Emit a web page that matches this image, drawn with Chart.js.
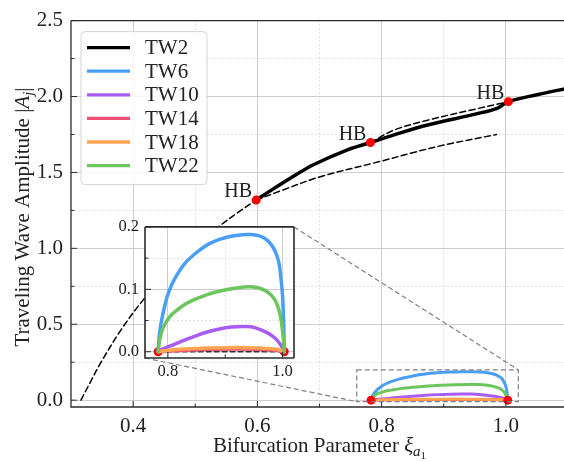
<!DOCTYPE html>
<html>
<head>
<meta charset="utf-8">
<script src="https://cdn.jsdelivr.net/npm/chart.js@4.4.1/dist/chart.umd.min.js"></script>
<style>
  html, body { margin: 0; padding: 0; background: #fff; overflow: hidden; }
  #wrap { position: relative; width: 564px; height: 461px; overflow: hidden; }
  #main { position: absolute; left: 0; top: 0; }
  #inset { position: absolute; left: 105px; top: 211px; }
</style>
</head>
<body>
<div id="wrap">
  <canvas id="main" width="573" height="461"></canvas>
  <canvas id="inset" width="195" height="175"></canvas>
</div>
<script>
// ---- data ----
const seriesNames = ['TW2', 'TW6', 'TW10', 'TW14', 'TW18', 'TW22'];
const seriesColors = ['#000000', '#4A9EF5', '#A95CF2', '#F25278', '#FFA552', '#6CC55E'];

// TW2 stable branch (solid)
const tw2X = [0.598, 0.625, 0.653, 0.691, 0.745, 0.782, 0.82, 0.874, 0.954, 0.987, 1.004, 1.05, 1.1];
const tw2Y = [1.318, 1.39, 1.462, 1.552, 1.649, 1.697, 1.747, 1.812, 1.887, 1.924, 1.966, 2.012, 2.055];

// unstable parts (dashed)
const dashAX = [0.316, 0.33, 0.347, 0.38, 0.417, 0.46, 0.5, 0.54, 0.57, 0.598];
const dashAY = [0, 0.11, 0.24, 0.46, 0.664, 0.86, 1.02, 1.15, 1.24, 1.318];
const dashBX = [0.598, 0.637, 0.7, 0.8, 0.85, 0.9, 0.985];
const dashBY = [1.318, 1.378, 1.47, 1.575, 1.63, 1.68, 1.75];
const dashCX = [0.782, 0.82, 0.874, 0.954, 0.987, 1.004];
const dashCY = [1.697, 1.779, 1.844, 1.92, 1.95, 1.966];
const zeroX = [0.783, 1.003];
const zeroY = [0, 0];

// small branches
const tw6X = [0.783, 0.7845, 0.787, 0.79, 0.794, 0.8, 0.807, 0.815, 0.83, 0.85, 0.87, 0.89, 0.91, 0.93, 0.945, 0.958, 0.97, 0.98, 0.987, 0.993, 0.997, 1.0, 1.002, 1.003];
const tw6Y = [0, 0.022, 0.04, 0.055, 0.072, 0.092, 0.108, 0.122, 0.142, 0.159, 0.172, 0.18, 0.185, 0.1875, 0.1878, 0.186, 0.181, 0.172, 0.161, 0.145, 0.12, 0.09, 0.045, 0];
const tw10X = [0.783, 0.79, 0.8, 0.81, 0.83, 0.85, 0.87, 0.89, 0.91, 0.93, 0.945, 0.96, 0.972, 0.982, 0.99, 0.996, 1.0, 1.003];
const tw10Y = [0, 0.004, 0.008, 0.0115, 0.019, 0.026, 0.032, 0.0365, 0.0395, 0.0405, 0.04, 0.036, 0.031, 0.0255, 0.019, 0.012, 0.006, 0];
const tw14X = [0.783, 0.82, 0.87, 0.92, 0.96, 0.99, 1.003];
const tw14Y = [0, 0.002, 0.004, 0.0045, 0.004, 0.002, 0];
const tw18X = [0.783, 0.82, 0.87, 0.92, 0.96, 0.99, 1.003];
const tw18Y = [0, 0.004, 0.006, 0.007, 0.006, 0.004, 0];
const tw22X = [0.783, 0.7845, 0.787, 0.791, 0.797, 0.805, 0.815, 0.83, 0.85, 0.87, 0.895, 0.92, 0.94, 0.955, 0.97, 0.98, 0.988, 0.994, 0.998, 1.001, 1.003];
const tw22Y = [0, 0.013, 0.025, 0.037, 0.048, 0.058, 0.066, 0.076, 0.085, 0.092, 0.098, 0.102, 0.104, 0.103, 0.098, 0.091, 0.081, 0.066, 0.048, 0.025, 0];

// Hopf points
const hbX = [0.598, 0.782, 1.004];
const hbY = [1.318, 1.697, 1.966];
const endX = [0.783, 1.003];
const endY = [0, 0];

// axes
const xTicksMain = [0.4, 0.5, 0.6, 0.7, 0.8, 0.9, 1.0];
const xMajorMain = [0.4, 0.6, 0.8, 1.0];
const yTicksMain = [0, 0.25, 0.5, 0.75, 1.0, 1.25, 1.5, 1.75, 2.0, 2.25, 2.5];
const yMajorMain = [0, 0.5, 1.0, 1.5, 2.0, 2.5];
const xTicksInset = [0.8, 0.9, 1.0];
const xMajorInset = [0.8, 1.0];
const yTicksInset = [0, 0.05, 0.1, 0.15, 0.2];
const yMajorInset = [0, 0.1, 0.2];
const insetX = [0.76, 1.02];
const insetY = [-0.01, 0.2];

const FONT = "'Liberation Serif', 'DejaVu Serif', serif";
const TXT = '#222';

const isIn = (list, v) => v !== undefined && list.some(m => Math.abs(m - v) < 1e-9);
const pts = (xs, ys) => xs.map((v, i) => ({x: v, y: ys[i]}));

function curve(label, xs, ys, color, width, dash, order) {
  return {
    label, data: pts(xs, ys), borderColor: color, borderWidth: width,
    borderDash: dash || [], pointRadius: 0, fill: false,
    tension: 0.35, borderCapStyle: 'round', order
  };
}
function dots(xs, ys, r, order) {
  return {
    label: 'HB', data: pts(xs, ys), showLine: false, pointRadius: r,
    pointBackgroundColor: '#ff0000', pointBorderWidth: 0, order
  };
}

function axis(min, max, ticks, major, fontSize, fit, pad) {
  return {
    type: 'linear', min, max,
    afterBuildTicks: s => { s.ticks = ticks.map(v => ({value: v})); },
    afterFit: fit,
    grid: {
      drawTicks: false, lineWidth: 1,
      color: c => isIn(major, c.tick && c.tick.value) ? '#cdcdcd' : '#d9d9d9'
    },
    border: { display: false, dash: c => isIn(major, c.tick && c.tick.value) ? [] : [1.5, 2.5] },
    ticks: {
      autoSkip: false, maxRotation: 0, padding: pad, color: TXT,
      font: { family: FONT, size: fontSize },
      callback: v => isIn(major, v) ? v.toFixed(1) : ''
    }
  };
}

// spines and inward tick marks
function drawFrame(chart, xMajor, yMajor, lw, sides, big, small) {
  const {ctx, chartArea: a, scales: {x, y}} = chart;
  ctx.save();
  ctx.strokeStyle = '#2b2b2b';
  ctx.lineWidth = lw;
  ctx.beginPath();
  ctx.moveTo(a.left, a.top); ctx.lineTo(a.left, a.bottom); ctx.lineTo(a.right, a.bottom);
  ctx.moveTo(a.left, a.top); ctx.lineTo(a.right, a.top);
  if (sides === 4) { ctx.moveTo(a.right, a.top); ctx.lineTo(a.right, a.bottom); }
  ctx.stroke();
  ctx.lineWidth = 1;
  ctx.beginPath();
  x.ticks.forEach(t => {
    const p = x.getPixelForValue(t.value);
    const l = isIn(xMajor, t.value) ? big : small;
    ctx.moveTo(p, a.bottom); ctx.lineTo(p, a.bottom - l);
  });
  y.ticks.forEach(t => {
    const p = y.getPixelForValue(t.value);
    const l = isIn(yMajor, t.value) ? big : small;
    ctx.moveTo(a.left, p); ctx.lineTo(a.left + l, p);
  });
  ctx.stroke();
  ctx.restore();
}

function drawParts(ctx, parts, x, y) {
  let cx = x;
  parts.forEach(p => {
    ctx.font = p.f;
    ctx.fillText(p.t, cx, y + (p.dy || 0));
    cx += ctx.measureText(p.t).width;
  });
}
function partsWidth(ctx, parts) {
  return parts.reduce((w, p) => { ctx.font = p.f; return w + ctx.measureText(p.t).width; }, 0);
}

// ---- inset ----
const insetCanvas = document.getElementById('inset');
const insetChart = new Chart(insetCanvas, {
  type: 'line',
  data: {
    datasets: [
      dots(endX, endY, 4.5, 30),
      curve('zero', zeroX, zeroY, '#333', 1.3, [5, 3], 20),
      curve('TW6', tw6X, tw6Y, seriesColors[1], 3.5, null, 9),
      curve('TW10', tw10X, tw10Y, seriesColors[2], 3.5, null, 8),
      curve('TW14', tw14X, tw14Y, seriesColors[3], 3.5, null, 7),
      curve('TW18', tw18X, tw18Y, seriesColors[4], 3.5, null, 6),
      curve('TW22', tw22X, tw22Y, seriesColors[5], 3.5, null, 5)
    ]
  },
  options: {
    responsive: false,
    animation: false,
    layout: { padding: { left: 0, right: 6, top: 10, bottom: 0 } },
    plugins: { legend: { display: false }, tooltip: { enabled: false } },
    scales: {
      x: axis(insetX[0], insetX[1], xTicksInset, xMajorInset, 16.5, s => { s.height = 28; }, 4),
      y: axis(insetY[0], insetY[1], yTicksInset, yMajorInset, 16.5, s => { s.width = 40; }, 6)
    }
  },
  plugins: [{
    id: 'insetFrame',
    beforeDraw(chart) {
      const {ctx, chartArea: a} = chart;
      ctx.save();
      ctx.fillStyle = '#fff';
      ctx.fillRect(a.left, a.top, a.right - a.left, a.bottom - a.top);
      ctx.restore();
    },
    afterDraw(chart) { drawFrame(chart, xMajorInset, yMajorInset, 1.6, 4, 6, 3.5); }
  }]
});

// ---- main ----
const overlay = {
  id: 'overlay',
  afterDraw(chart) {
    const {ctx, chartArea: a, scales: {x, y}} = chart;
    drawFrame(chart, xMajorMain, yMajorMain, 1.3, 3, 6, 3.5);
    ctx.save();

    // HB labels
    ctx.fillStyle = TXT;
    ctx.font = '20px ' + FONT;
    ctx.textAlign = 'right';
    ctx.textBaseline = 'alphabetic';
    hbX.forEach((v, i) => {
      ctx.fillText('HB', x.getPixelForValue(v) - 4, y.getPixelForValue(hbY[i]) - 3);
    });

    // zoom box and connectors
    const r = {
      l: x.getPixelForValue(insetX[0]), r: x.getPixelForValue(insetX[1]),
      t: y.getPixelForValue(insetY[1]), b: y.getPixelForValue(insetY[0])
    };
    const ia = insetChart.chartArea;
    const ox = insetCanvas.offsetLeft, oy = insetCanvas.offsetTop;
    ctx.strokeStyle = '#808080';
    ctx.lineWidth = 1.2;
    ctx.setLineDash([5, 3]);
    ctx.strokeRect(r.l, r.t, r.r - r.l, r.b - r.t);
    ctx.beginPath();
    ctx.moveTo(ox + ia.right, oy + ia.top); ctx.lineTo(r.r, r.t);
    ctx.moveTo(ox + ia.left, oy + ia.bottom); ctx.lineTo(r.l, r.b);
    ctx.stroke();
    ctx.setLineDash([]);

    // legend
    const lx = a.left + 10, ly = a.top + 11, lw = 126, lh = 153;
    ctx.beginPath();
    ctx.roundRect(lx, ly, lw, lh, 4);
    ctx.fillStyle = 'rgba(255,255,255,0.85)';
    ctx.fill();
    ctx.strokeStyle = '#d4d4d4';
    ctx.lineWidth = 1;
    ctx.stroke();
    ctx.textAlign = 'left';
    ctx.textBaseline = 'middle';
    ctx.font = '21px ' + FONT;
    seriesNames.forEach((n, i) => {
      const yy = ly + 16 + i * 23.6;
      ctx.strokeStyle = seriesColors[i];
      ctx.lineWidth = 3.3;
      ctx.beginPath();
      ctx.moveTo(lx + 6, yy); ctx.lineTo(lx + 49, yy);
      ctx.stroke();
      ctx.fillStyle = TXT;
      ctx.fillText(n, lx + 64, yy + 1);
    });

    // axis titles
    ctx.fillStyle = TXT;
    ctx.textBaseline = 'alphabetic';
    const xt = [
      {t: 'Bifurcation Parameter ', f: '21px ' + FONT},
      {t: 'ξ', f: 'italic 21px ' + FONT},
      {t: 'a', f: 'italic 15px ' + FONT, dy: 4},
      {t: '1', f: '11px ' + FONT, dy: 7}
    ];
    const cx = (a.left + a.right) / 2;
    drawParts(ctx, xt, cx - partsWidth(ctx, xt) / 2, 452);
    const yt = [
      {t: 'Traveling Wave Amplitude |', f: '21px ' + FONT},
      {t: 'A', f: 'italic 21px ' + FONT},
      {t: 'j', f: 'italic 15px ' + FONT, dy: 4},
      {t: '|', f: '21px ' + FONT}
    ];
    ctx.translate(29, 217);
    ctx.rotate(-Math.PI / 2);
    drawParts(ctx, yt, -partsWidth(ctx, yt) / 2, 0);
    ctx.restore();
  }
};

new Chart(document.getElementById('main'), {
  type: 'line',
  data: {
    datasets: [
      dots(hbX, hbY, 4.5, 1),
      dots(endX, endY, 4.5, 1),
      curve('TW2', tw2X, tw2Y, seriesColors[0], 3.5, null, 3),
      curve('TW6', tw6X, tw6Y, seriesColors[1], 3, null, 9),
      curve('TW10', tw10X, tw10Y, seriesColors[2], 3, null, 8),
      curve('TW14', tw14X, tw14Y, seriesColors[3], 3, null, 7),
      curve('TW18', tw18X, tw18Y, seriesColors[4], 3, null, 6),
      curve('TW22', tw22X, tw22Y, seriesColors[5], 3, null, 5),
      curve('unstable', dashAX, dashAY, '#000', 1.5, [6, 3.5], 10),
      curve('unstable', dashBX, dashBY, '#000', 1.5, [6, 3.5], 10),
      curve('unstable', dashCX, dashCY, '#000', 1.5, [6, 3.5], 10)
    ]
  },
  options: {
    responsive: false,
    animation: false,
    layout: { padding: { left: 0, right: 5, top: 14, bottom: 0 } },
    plugins: { legend: { display: false }, tooltip: { enabled: false } },
    scales: {
      x: axis(0.3, 1.1, xTicksMain, xMajorMain, 21, s => { s.height = 54; }, 7),
      y: axis(-0.045, 2.5, yTicksMain, yMajorMain, 21, s => { s.width = 71; }, 8)
    }
  },
  plugins: [overlay]
});
</script>
</body>
</html>
